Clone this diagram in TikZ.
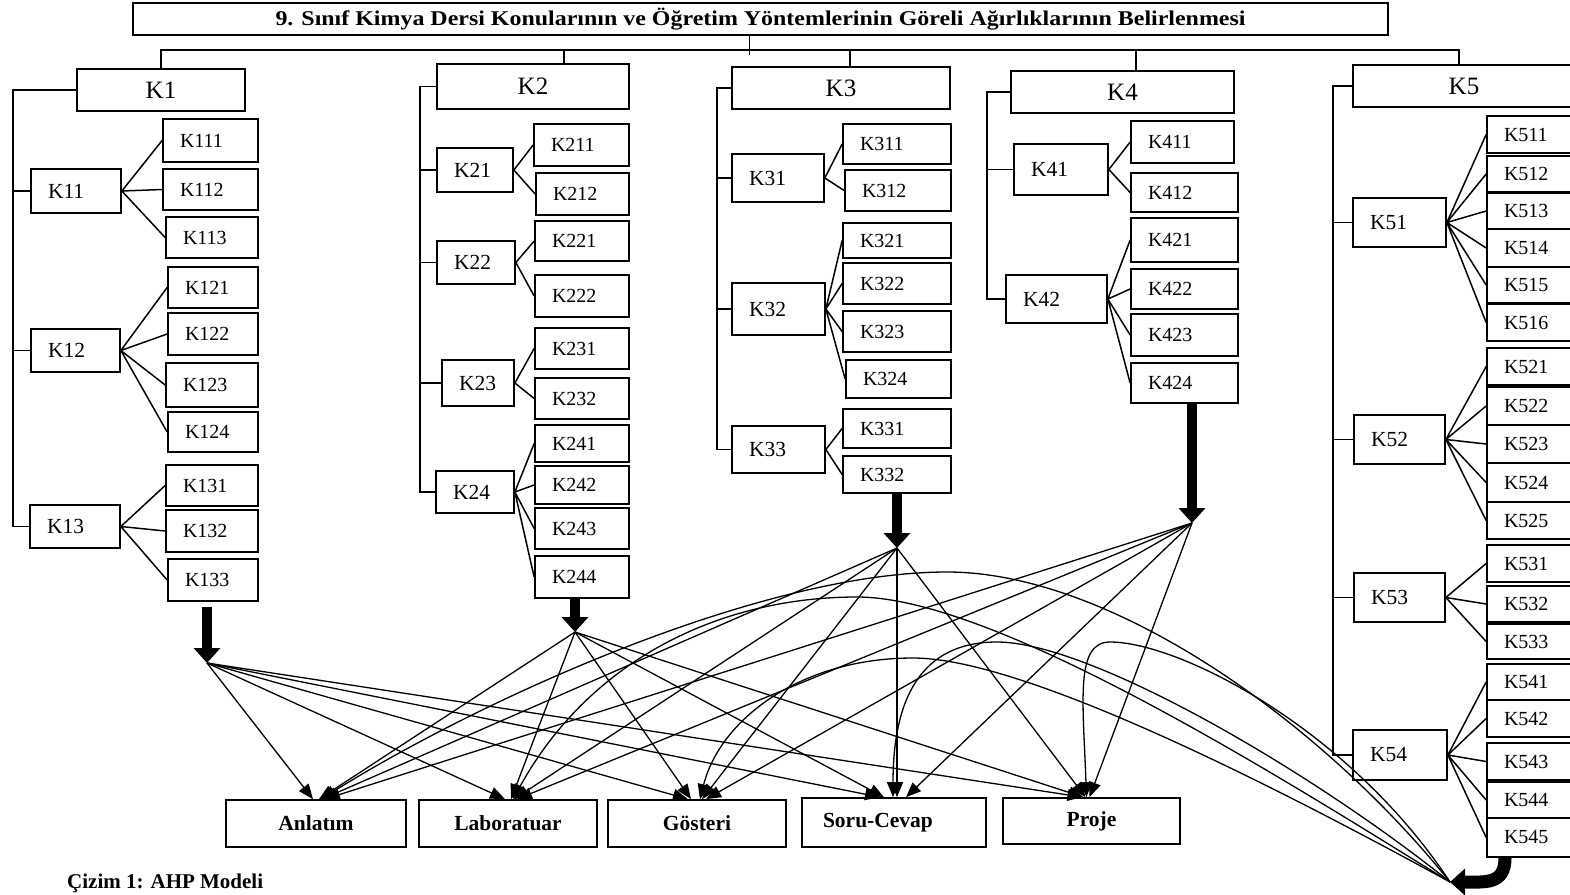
\documentclass[tikz,border=0pt]{standalone}
\usepackage{fontspec}
\setmainfont{Liberation Serif}
\newfontfamily\titlefont{Liberation Serif}[FakeStretch=1.14]
\usetikzlibrary{arrows.meta}

\begin{document}
\begin{tikzpicture}[
  x=1pt, y=-1pt,
  box/.style={
    draw,
    line width=1.7pt,
    inner ysep=0pt
  },
  main/.style={
    box,
    font=\fontsize{25}{28}\selectfont
  },
  sub/.style={
    box,
    text width=#1,
    inner xsep=17pt,
    align=left,
    font=\fontsize{21.5}{23}\selectfont
  },
  leaf/.style={
    box,
    text width=#1,
    inner xsep=17pt,
    align=left,
    font=\fontsize{20}{22}\selectfont
  },
  method/.style={
    box,
    minimum width=178,
    minimum height=47,
    font=\bfseries\fontsize{21.5}{24}\selectfont
  },
  tree/.style={
    line width=1.5pt
  },
  flow/.style={
    -{Triangle[length=15pt,width=12pt]},
    line width=1.3pt
  },
  bigarrow/.style={
    -{Triangle[length=15pt,width=26pt]},
    line width=10pt
  }
]
\useasboundingbox (0,0) rectangle (1570,894);
\clip (0,0) rectangle (1570,894);

% Goal
\node[box, minimum width=1255, minimum height=32, font=\titlefont\bfseries\fontsize{21}{24}\selectfont] (title) at (760.5,19)
  {9. Sınıf Kimya Dersi Konularının ve Öğretim Yöntemlerinin Göreli Ağırlıklarının Belirlenmesi};
\coordinate (bus) at (0,50);

% Main criteria
\node[main, minimum width=168, minimum height=42] (K1) at (161,90) {K1};
\node[main, minimum width=192, minimum height=45] (K2) at (533,86.5) {K2};
\node[main, minimum width=218, minimum height=42] (K3) at (841,88) {K3};
\node[main, minimum width=223, minimum height=42] (K4) at (1122.5,92) {K4};
\node[main, minimum width=222, minimum height=42] (K5) at (1464,86) {K5};

% K1 branch
\node[sub=56pt, minimum height=44] (K11) at (76,191) {K11};
\node[sub=55pt, minimum height=43] (K12) at (75.5,350.5) {K12};
\node[sub=56pt, minimum height=43] (K13) at (75,526.5) {K13};
\node[leaf=61pt, minimum height=43] (K111) at (210.5,140.5) {K111};
\node[leaf=61pt, minimum height=41] (K112) at (210.5,189.5) {K112};
\node[leaf=58pt, minimum height=41] (K113) at (212,237.5) {K113};
\node[leaf=56pt, minimum height=41] (K121) at (213,287.5) {K121};
\node[leaf=56pt, minimum height=42] (K122) at (213,334) {K122};
\node[leaf=58pt, minimum height=44] (K123) at (212,385) {K123};
\node[leaf=56pt, minimum height=40] (K124) at (213,432) {K124};
\node[leaf=58pt, minimum height=41] (K131) at (212,485.5) {K131};
\node[leaf=58pt, minimum height=42] (K132) at (212,531) {K132};
\node[leaf=56pt, minimum height=42] (K133) at (213,580) {K133};

% K2 branch
\node[sub=42pt, minimum height=44] (K21) at (475,170) {K21};
\node[sub=44pt, minimum height=43] (K22) at (476,262.5) {K22};
\node[sub=38pt, minimum height=46] (K23) at (478,383) {K23};
\node[sub=44pt, minimum height=42] (K24) at (475,492) {K24};
\node[leaf=61pt, minimum height=42] (K211) at (581.5,145) {K211};
\node[leaf=59pt, minimum height=42] (K212) at (582.5,194) {K212};
\node[leaf=60pt, minimum height=40] (K221) at (582,241) {K221};
\node[leaf=60pt, minimum height=42] (K222) at (582,296) {K222};
\node[leaf=60pt, minimum height=41] (K231) at (582,348.5) {K231};
\node[leaf=60pt, minimum height=41] (K232) at (582,398.5) {K232};
\node[leaf=60pt, minimum height=37] (K241) at (582,443.5) {K241};
\node[leaf=60pt, minimum height=38] (K242) at (582,485) {K242};
\node[leaf=60pt, minimum height=41] (K243) at (582,528.5) {K243};
\node[leaf=60pt, minimum height=42] (K244) at (582,577) {K244};

% K3 branch
\node[sub=58pt, minimum height=48] (K31) at (778,178) {K31};
\node[sub=59pt, minimum height=52] (K32) at (778.5,309) {K32};
\node[sub=59pt, minimum height=47] (K33) at (778.5,449.5) {K33};
\node[leaf=74pt, minimum height=40] (K311) at (897,144) {K311};
\node[leaf=72pt, minimum height=41] (K312) at (898,190.5) {K312};
\node[leaf=74pt, minimum height=35] (K321) at (897,240.5) {K321};
\node[leaf=74pt, minimum height=41] (K322) at (897,283.5) {K322};
\node[leaf=74pt, minimum height=41] (K323) at (897,331.5) {K323};
\node[leaf=71pt, minimum height=38] (K324) at (898.5,379) {K324};
\node[leaf=74pt, minimum height=39] (K331) at (897,428.5) {K331};
\node[leaf=74pt, minimum height=37] (K332) at (897,474.5) {K332};

% K4 branch
\node[sub=60pt, minimum height=51] (K41) at (1061,169.5) {K41};
\node[sub=67pt, minimum height=48] (K42) at (1056.5,299) {K42};
\node[leaf=69pt, minimum height=42] (K411) at (1182.5,142) {K411};
\node[leaf=73pt, minimum height=39] (K412) at (1184.5,192.5) {K412};
\node[leaf=73pt, minimum height=44] (K421) at (1184.5,240) {K421};
\node[leaf=73pt, minimum height=40] (K422) at (1184.5,289) {K422};
\node[leaf=73pt, minimum height=42] (K423) at (1184.5,335) {K423};
\node[leaf=73pt, minimum height=40] (K424) at (1184.5,383) {K424};

% K5 branch
\node[sub=59pt, minimum height=49] (K51) at (1399.5,222.5) {K51};
\node[sub=57pt, minimum height=49] (K52) at (1399.5,439.5) {K52};
\node[sub=57pt, minimum height=49] (K53) at (1399.5,597.5) {K53};
\node[sub=60pt, minimum height=50] (K54) at (1400,755) {K54};
\node[leaf=54pt, minimum height=37] (K511) at (1531,134.5) {K511};
\node[leaf=54pt, minimum height=36] (K512) at (1531,174) {K512};
\node[leaf=54pt, minimum height=36] (K513) at (1531,211) {K513};
\node[leaf=54pt, minimum height=38] (K514) at (1531,248) {K514};
\node[leaf=54pt, minimum height=36] (K515) at (1531,285) {K515};
\node[leaf=54pt, minimum height=37] (K516) at (1531,322.5) {K516};
\node[leaf=54pt, minimum height=37] (K521) at (1531,366.5) {K521};
\node[leaf=54pt, minimum height=38] (K522) at (1531,406) {K522};
\node[leaf=54pt, minimum height=38] (K523) at (1531,444) {K523};
\node[leaf=54pt, minimum height=39] (K524) at (1531,482.5) {K524};
\node[leaf=54pt, minimum height=37] (K525) at (1531,520.5) {K525};
\node[leaf=54pt, minimum height=37] (K531) at (1531,563.5) {K531};
\node[leaf=54pt, minimum height=36] (K532) at (1531,604) {K532};
\node[leaf=54pt, minimum height=35] (K533) at (1531,641.5) {K533};
\node[leaf=54pt, minimum height=36] (K541) at (1531,682) {K541};
\node[leaf=54pt, minimum height=37] (K542) at (1531,718.5) {K542};
\node[leaf=54pt, minimum height=37] (K543) at (1531,761.5) {K543};
\node[leaf=54pt, minimum height=36] (K544) at (1531,800) {K544};
\node[leaf=54pt, minimum height=39] (K545) at (1531,837.5) {K545};

% Methods
\node[method, minimum width=180] (Anlatim) at (316,823.5) {Anlatım};
\node[method] (Laboratuar) at (508,823.5) {Laboratuar};
\node[method] (Gosteri) at (697,823.5) {Gösteri};
\node[method, minimum height=49, text width=142pt, inner xsep=21pt, align=left] (SoruCevap) at (894,822.5) {Soru-Cevap};
\node[method, minimum width=177, minimum height=46] (Proje) at (1091.5,821) {Proje};

\node[anchor=west, inner sep=0pt, font=\bfseries\fontsize{21}{24}\selectfont] (caption) at (67,883) {Çizim 1: AHP Modeli};

% Hierarchy lines
\draw[tree] ([xshift=-11pt]title.south) -- ([xshift=-11pt,yshift=-5pt]title.south |- bus);
\draw[tree] (K1.north) |- ([xshift=-5pt]K5.north |- bus) -- ([xshift=-5pt]K5.north);
\draw[tree] ([xshift=31pt]K2.north) -- ([xshift=31pt]K2.north |- bus);
\draw[tree] ([xshift=9pt]K3.north) -- ([xshift=9pt]K3.north |- bus);
\draw[tree] ([xshift=13.5pt]K4.north) -- ([xshift=13.5pt]K4.north |- bus);

\coordinate (s1) at (13,0);
\coordinate (s2) at (420,0);
\coordinate (s3) at (717,0);
\coordinate (s4) at (987,0);
\coordinate (s5) at (1333,0);
\draw[tree] (K1.west) -- (K1.west -| s1) |- (K13.west);
\draw[tree] (K11.west -| s1) -- (K11.west) (K12.west -| s1) -- (K12.west);
\draw[tree] (K2.west) -- (K2.west -| s2) |- (K24.west);
\draw[tree] (K21.west -| s2) -- (K21.west) (K22.west -| s2) -- (K22.west) (K23.west -| s2) -- (K23.west);
\draw[tree] (K3.west) -- (K3.west -| s3) |- (K33.west);
\draw[tree] (K31.west -| s3) -- (K31.west) (K32.west -| s3) -- (K32.west);
\draw[tree] (K4.west) -- (K4.west -| s4) |- (K42.west);
\draw[tree] (K41.west -| s4) -- (K41.west);
\draw[tree] (K5.west) -- (K5.west -| s5) |- (K54.west);
\draw[tree] (K51.west -| s5) -- (K51.west) (K52.west -| s5) -- (K52.west) (K53.west -| s5) -- (K53.west);

% Fans
\draw[tree] (K11.east) -- (K111.west) (K11.east) -- (K112.west) (K11.east) -- (K113.west);
\draw[tree] (K12.east) -- (K121.west) (K12.east) -- (K122.west) (K12.east) -- (K123.west) (K12.east) -- (K124.west);
\draw[tree] (K13.east) -- (K131.west) (K13.east) -- (K132.west) (K13.east) -- (K133.west);
\draw[tree] (K21.east) -- (K211.west) (K21.east) -- (K212.west);
\draw[tree] (K22.east) -- (K221.west) (K22.east) -- (K222.west);
\draw[tree] (K23.east) -- (K231.west) (K23.east) -- (K232.west);
\draw[tree] (K24.east) -- (K241.west) (K24.east) -- (K242.west) (K24.east) -- (K243.west) (K24.east) -- (K244.west);
\draw[tree] (K31.east) -- (K311.west) (K31.east) -- (K312.west);
\draw[tree] (K32.east) -- (K321.west) (K32.east) -- (K322.west) (K32.east) -- (K323.west) (K32.east) -- (K324.west);
\draw[tree] (K33.east) -- (K331.west) (K33.east) -- (K332.west);
\draw[tree] (K41.east) -- (K411.west) (K41.east) -- (K412.west);
\draw[tree] (K42.east) -- (K421.west) (K42.east) -- (K422.west) (K42.east) -- (K423.west) (K42.east) -- (K424.west);
\draw[tree] (K51.east) -- (K511.west) (K51.east) -- (K512.west) (K51.east) -- (K513.west)
  (K51.east) -- (K514.west) (K51.east) -- (K515.west) (K51.east) -- (K516.west);
\draw[tree] (K52.east) -- (K521.west) (K52.east) -- (K522.west) (K52.east) -- (K523.west)
  (K52.east) -- (K524.west) (K52.east) -- (K525.west);
\draw[tree] (K53.east) -- (K531.west) (K53.east) -- (K532.west) (K53.east) -- (K533.west);
\draw[tree] (K54.east) -- (K541.west) (K54.east) -- (K542.west) (K54.east) -- (K543.west)
  (K54.east) -- (K544.west) (K54.east) -- (K545.west);

% Hubs
\coordinate (h1) at (207,663);
\coordinate (h2) at (575,632);
\coordinate (h3) at (897,548);
\coordinate (h4) at (1192,523);
\coordinate (h5) at (1450,882);
\draw[bigarrow, shorten <=5pt] (h1 |- K133.south) -- (h1);
\draw[bigarrow] (h2 |- K244.south) -- (h2);
\draw[bigarrow] (h3 |- K332.south) -- (h3);
\draw[bigarrow] (h4 |- K424.south) -- (h4);
\draw[bigarrow, line width=13pt] ([xshift=-26pt]K545.south) .. controls +(0,27) and +(35,0) .. (h5);

% Hub to methods
\draw[flow] (h1) -- ([xshift=-3pt]Anlatim.north);
\draw[flow] (h1) -- ([xshift=-3pt]Laboratuar.north);
\draw[flow] (h1) -- ([xshift=-9pt]Gosteri.north);
\draw[flow] (h1) -- ([xshift=-14pt]SoruCevap.north);
\draw[flow] (h1) -- ([xshift=-9pt]Proje.north);
\draw[flow] (h2) -- ([xshift=3pt]Anlatim.north);
\draw[flow] (h2) -- ([xshift=3pt]Laboratuar.north);
\draw[flow] (h2) -- ([xshift=-6pt]Gosteri.north);
\draw[flow] (h2) -- ([xshift=-10pt]SoruCevap.north);
\draw[flow] (h2) -- ([xshift=-8pt]Proje.north);
\draw[flow] (h3) -- ([xshift=6pt]Anlatim.north);
\draw[flow] (h3) -- ([xshift=6pt]Laboratuar.north);
\draw[flow] (h3) -- ([xshift=5pt]Gosteri.north);
\draw[flow] (h3) -- ([xshift=3pt]SoruCevap.north);
\draw[flow] (h3) -- ([xshift=-6pt]Proje.north);
\draw[flow] (h4) -- ([xshift=9pt]Anlatim.north);
\draw[flow] (h4) -- ([xshift=9pt]Laboratuar.north);
\draw[flow] (h4) -- ([xshift=9pt]Gosteri.north);
\draw[flow] (h4) -- ([xshift=12pt]SoruCevap.north);
\draw[flow] (h4) -- ([xshift=-2pt]Proje.north);
\draw[flow] (h5) .. controls (1320,720) and (1110,572) .. (947,572) .. controls (760,572) and (480,700) .. ([xshift=5pt]Anlatim.north);
\draw[flow] (h5) .. controls (1300,790) and (1000,597) .. (857,597) .. controls (720,597) and (590,660) .. ([xshift=5pt]Laboratuar.north);
\draw[flow] (h5) .. controls (1300,800) and (1030,658) .. (913,658) .. controls (800,658) and (720,720) .. ([xshift=3pt]Gosteri.north);
\draw[flow] (h5) .. controls (1310,770) and (1090,642) .. (997,642) .. controls (920,642) and (893,700) .. ([xshift=-1pt]SoruCevap.north);
\draw[flow] (h5) .. controls (1350,730) and (1180,642) .. (1110,642) .. controls (1075,642) and (1083,700) .. ([xshift=-5pt]Proje.north);

\end{tikzpicture}
\end{document}
